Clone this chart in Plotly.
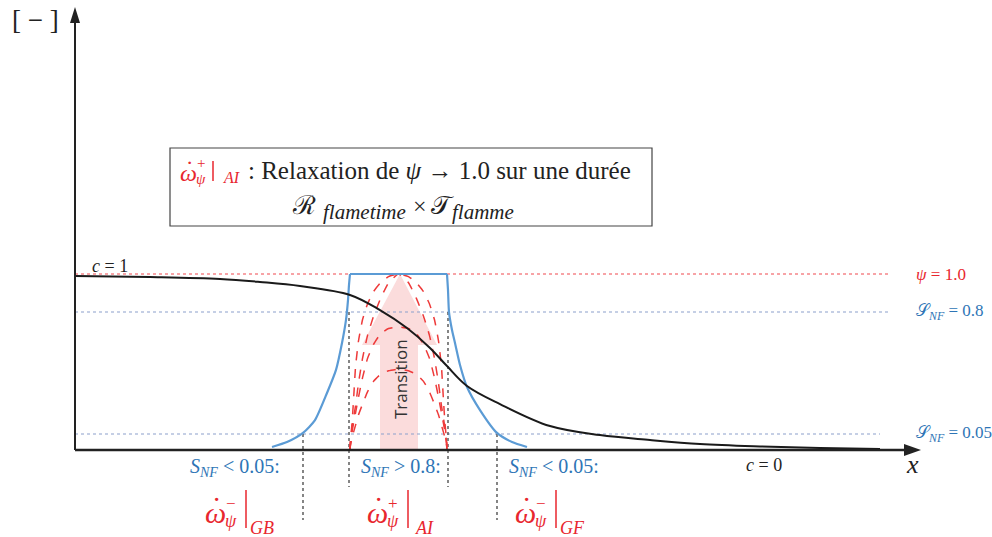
import plotly.graph_objects as go

# ---------------- data (schematic units) ----------------
# progress variable c along x
c_x = [75, 150, 220, 260, 300, 350, 380, 407, 430, 447, 467, 500, 550, 600, 650, 700, 760, 820, 880]
c_y = [0.989, 0.983, 0.972, 0.955, 0.932, 0.881, 0.795, 0.693, 0.580, 0.477, 0.364, 0.261, 0.136,
       0.085, 0.057, 0.034, 0.020, 0.011, 0.006]

# S_NF profile (blue): rising flank, plateau, falling flank
snf_left_x = [272, 287, 303, 315, 327, 336, 342, 346, 348, 349, 350]
snf_left_y = [0.017, 0.045, 0.097, 0.170, 0.324, 0.455, 0.608, 0.739, 0.852, 0.938, 1.0]
snf_top_x = [350, 447]
snf_top_y = [1.0, 1.0]
snf_right_x = [447, 448, 449, 452, 455, 460, 467, 480, 497, 512, 527]
snf_right_y = [1.0, 0.909, 0.784, 0.682, 0.608, 0.483, 0.358, 0.227, 0.097, 0.045, 0.017]

# psi relaxation arcs (red dashed)
arc_x = [350, 350.3, 351, 352, 353.5, 355.5, 358.5, 362.5, 367.5, 373.5, 380.5, 388.5, 398.5,
         408.5, 416.5, 423.5, 429.5, 434.5, 438.5, 441.5, 443.5, 445, 446, 446.7, 447]
arc_a = [0, 0.05, 0.09, 0.15, 0.28, 0.47, 0.62, 0.74, 0.83, 0.90, 0.95, 0.985, 1.0,
         0.985, 0.95, 0.90, 0.83, 0.74, 0.62, 0.47, 0.28, 0.15, 0.09, 0.05, 0]
arc_b = [0, 0.03, 0.07, 0.12, 0.18, 0.25, 0.38, 0.52, 0.65, 0.76, 0.86, 0.95, 1.0,
         0.95, 0.86, 0.76, 0.65, 0.52, 0.38, 0.25, 0.18, 0.12, 0.07, 0.03, 0]
arc_c = [0, 0.03, 0.06, 0.10, 0.15, 0.21, 0.30, 0.41, 0.52, 0.60, 0.66, 0.69, 0.70,
         0.69, 0.66, 0.60, 0.52, 0.41, 0.30, 0.21, 0.15, 0.10, 0.06, 0.03, 0]
arc_d = [0, 0.02, 0.04, 0.07, 0.10, 0.14, 0.20, 0.26, 0.33, 0.39, 0.43, 0.45, 0.46,
         0.45, 0.43, 0.39, 0.33, 0.26, 0.20, 0.14, 0.10, 0.07, 0.04, 0.02, 0]
arcs = [arc_a, arc_b, arc_c, arc_d]

# horizontal reference levels
ref_levels = [1.0, 0.784, 0.091]
ref_ends = [888, 888, 880]
ref_colors = ["#f0484e", "#8b9fcc", "#8b9fcc"]
ref_labels = ["<i>ψ</i> = 1.0", "𝒮<sub><i>NF</i></sub> = 0.8", "𝒮<sub><i>NF</i></sub> = 0.05"]
ref_label_colors = ["#e8262e", "#2e75b6", "#2e75b6"]

# zone boundaries (dotted verticals): x, top level, bottom (px)
zone_x = [303, 349, 448, 497]
zone_top = [0.091, 0.784, 0.784, 0.091]
zone_bottom_px = [520, 487, 487, 520]

# zone labels
zone_lab_x = [235, 401, 554]
zone_lab_t = ["<i>S</i><sub><i>NF</i></sub> < 0.05:", "<i>S</i><sub><i>NF</i></sub> > 0.8:",
              "<i>S</i><sub><i>NF</i></sub> < 0.05:"]
omega_x = [215, 377, 525]
omega_sup = ["−", "+", "−"]
omega_sub = ["GB", "AI", "GF"]

W, H = 992, 537
X0, Y0, UNIT = 75, 450, 176.0  # axis origin (px) and vertical unit


def Y(py):
    return (Y0 - py) / UNIT


def P(px, py):
    return dict(x=px / W, y=1 - py / H, xref="paper", yref="paper")


fig = go.Figure()

# reference lines
for lvl, xe, col in zip(ref_levels, ref_ends, ref_colors):
    fig.add_trace(go.Scatter(x=[X0, xe], y=[lvl, lvl], mode="lines",
                             line=dict(color=col, width=1.2, dash="dot"), hoverinfo="skip"))

# zone dotted verticals
for zx, zt, zb in zip(zone_x, zone_top, zone_bottom_px):
    fig.add_trace(go.Scatter(x=[zx, zx], y=[zt, Y(zb)], mode="lines",
                             line=dict(color="#444444", width=1.3, dash="dot"), hoverinfo="skip"))

# red arcs
for a in arcs:
    fig.add_trace(go.Scatter(x=arc_x, y=a, mode="lines", line_shape="spline",
                             line=dict(color="#ee3a3a", width=1.5, dash="dash", smoothing=0.4),
                             hoverinfo="skip"))

# S_NF curve
for sx, sy, shp in [(snf_left_x, snf_left_y, "spline"), (snf_top_x, snf_top_y, "linear"),
                    (snf_right_x, snf_right_y, "spline")]:
    fig.add_trace(go.Scatter(x=sx, y=sy, mode="lines", line_shape=shp,
                             line=dict(color="#5b9bd5", width=2.2, smoothing=0.6), hoverinfo="skip"))

# c curve
fig.add_trace(go.Scatter(x=c_x, y=c_y, mode="lines", line_shape="spline",
                         line=dict(color="#1a1a1a", width=2), hoverinfo="skip"))

shapes = []
# transition arrow (background)
ya = Y(345)
shapes.append(dict(type="path", xref="x", yref="y", layer="below",
                   path=f"M 380,0 L 380,{ya} L 362,{ya} L 400,1.0 L 437,{ya} L 418,{ya} L 418,0 Z",
                   fillcolor="#fbdcdc", line=dict(width=0)))
# axes
shapes.append(dict(type="line", xref="x", yref="y", x0=X0, x1=X0, y0=0, y1=Y(20),
                   line=dict(color="#222222", width=2)))
shapes.append(dict(type="path", xref="x", yref="y",
                   path=f"M {X0-5},{Y(23)} L {X0},{Y(7)} L {X0+5},{Y(23)} Z",
                   fillcolor="#222222", line=dict(width=0)))
shapes.append(dict(type="line", xref="x", yref="y", x0=X0, x1=908, y0=0, y1=0,
                   line=dict(color="#222222", width=2.5)))
shapes.append(dict(type="path", xref="x", yref="y",
                   path=f"M 904,{Y(444)} L 921,{Y(450)} L 904,{Y(456)} Z",
                   fillcolor="#222222", line=dict(width=0)))
# text box
shapes.append(dict(type="rect", xref="x", yref="y", x0=170, x1=652, y0=Y(148), y1=Y(226),
                   line=dict(color="#444444", width=1.2), fillcolor="rgba(0,0,0,0)"))

ann = []
SERIF = "Liberation Serif"
RED = "#e8262e"
BLUE = "#2e75b6"


def txt(px, py, text, size, color="#222222", family=SERIF, xanchor="center", **kw):
    d = P(px, py)
    d.update(text=text, showarrow=False, xanchor=xanchor, yanchor="middle",
             font=dict(family=family, size=size, color=color))
    d.update(kw)
    ann.append(d)


def bar(px, py0, py1, color=RED):
    shapes.append(dict(type="line", xref="x", yref="y", x0=px, x1=px, y0=Y(py0), y1=Y(py1),
                       line=dict(color=color, width=1.5)))


txt(35, 20, "[ − ]", 27)
txt(912, 464, "<i>x</i>", 26)
txt(110, 266, "<i>c</i> = 1", 18)
txt(764, 465, "<i>c</i> = 0", 18)

# right-hand labels
for lvl, lab, col in zip(ref_levels, ref_labels, ref_label_colors):
    py = Y0 - lvl * UNIT
    txt(914, py, lab, 17, color=col, xanchor="left")

# box text, line 1
txt(188, 173, "<i>ω</i>", 24, color=RED)
txt(189, 163, "·", 22, color=RED)
txt(201, 163, "+", 15, color=RED)
txt(201, 179, "<i>ψ</i>", 15, color=RED)
bar(213, 161, 181)
txt(231, 177, "<i>AI</i>", 16, color=RED)
txt(246, 170, ": Relaxation de <i>ψ</i> → 1.0 sur une durée", 25, xanchor="left")
# box text, line 2
txt(304, 205, "ℛ", 26)
txt(321, 212, "<i>flametime</i>", 21, xanchor="left")
txt(420, 206, "×", 24)
txt(442, 205, "𝒯", 26)
txt(450, 212, "<i>flamme</i>", 21, xanchor="left")

# zone labels
for zx, zt in zip(zone_lab_x, zone_lab_t):
    txt(zx, 467, zt, 20, color=BLUE)

for ox, sp, sb in zip(omega_x, omega_sup, omega_sub):
    txt(ox, 512, "<i>ω</i>", 30, color=RED)
    txt(ox + 1, 499, "·", 28, color=RED)
    txt(ox + 16, 503, sp, 17, color=RED)
    txt(ox + 16, 521, "<i>ψ</i>", 18, color=RED)
    bar(ox + 31, 490, 528)
    txt(ox + 47, 528, f"<i>{sb}</i>", 18, color=RED)

# Transition label
txt(400, 379, "Transition", 17, color="#333333", family="Open Sans", textangle=-90)

fig.update_layout(
    width=W, height=H, margin=dict(l=0, r=0, t=0, b=0),
    paper_bgcolor="white", plot_bgcolor="white", showlegend=False,
    xaxis=dict(range=[0, W], visible=False, fixedrange=True),
    yaxis=dict(range=[Y(H), Y(0)], visible=False, fixedrange=True),
    shapes=shapes, annotations=ann,
)

fig.write_html("out.html", config=dict(displayModeBar=False),
               post_script="document.body.style.margin='0';")
